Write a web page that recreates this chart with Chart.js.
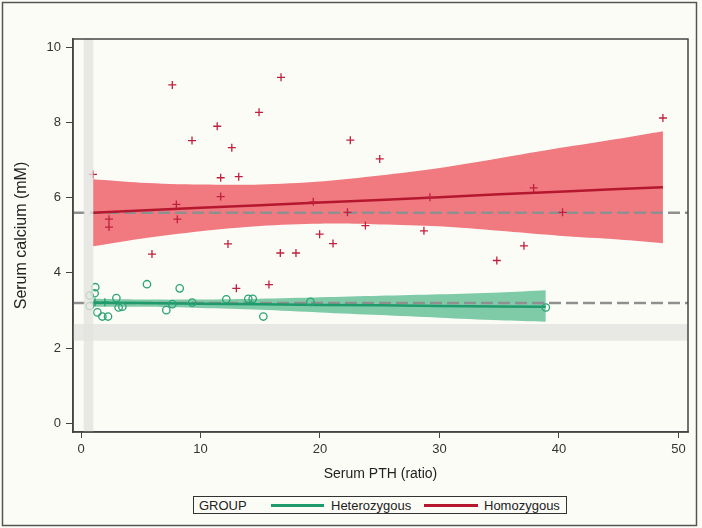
<!DOCTYPE html>
<html>
<head>
<meta charset="utf-8">
<script src="https://cdn.jsdelivr.net/npm/chart.js@4/dist/chart.umd.min.js"></script>
<style>
  html, body { margin:0; padding:0; background:#fcfcf7; }
  #wrap { position:relative; width:702px; height:528px; }
  #c { position:absolute; left:0; top:0; }
  #legend { position:absolute; left:193px; top:496px; width:374px; height:18px; border:1px solid #333;
    font-family:"Liberation Sans", Arial, sans-serif; font-size:13px; color:#222; box-sizing:border-box; background:#fcfcf7; }
  #legend span { position:absolute; top:0px; line-height:17px; white-space:nowrap; }
  #legend i { position:absolute; top:7px; height:2.5px; display:block; }
</style>
</head>
<body>
<div id="wrap">
<canvas id="c" width="702" height="528"></canvas>
<div id="legend">
  <span style="left:5px">GROUP</span>
  <i style="left:77px;width:53px;background:#1f9a6c"></i>
  <span style="left:137px">Heterozygous</span>
  <i style="left:230px;width:54px;background:#b5172f"></i>
  <span style="left:290px">Homozygous</span>
</div>
</div>
<script>
// ---- data ----
const xTickValues = [0, 10, 20, 30, 40, 50];
const yTickValues = [0, 2, 4, 6, 8, 10];

// Homozygous (red plus markers)
const homX = [1.0, 2.34, 2.34, 5.94, 7.64, 7.98, 8.06, 9.29, 11.4, 11.69, 11.69, 12.3, 12.62, 13.2, 13.0, 14.9, 15.73, 16.74, 16.68, 17.99, 19.44, 19.97, 21.09, 22.54, 22.3, 23.8, 25.0, 28.7, 29.2, 34.8, 37.07, 37.88, 40.3, 48.7];
const homY = [6.62, 5.43, 5.22, 4.50, 9.00, 5.82, 5.43, 7.52, 7.90, 6.53, 6.03, 4.77, 7.33, 6.56, 3.59, 8.27, 3.69, 9.20, 4.53, 4.53, 5.89, 5.03, 4.78, 7.53, 5.61, 5.26, 7.03, 5.12, 6.01, 4.33, 4.72, 6.26, 5.61, 8.12];

// Heterozygous (green circles)
const hetX = [0.73, 0.73, 1.2, 1.14, 1.37, 1.79, 2.26, 2.96, 3.15, 3.46, 5.52, 7.14, 7.64, 8.26, 9.3, 12.16, 14.0, 14.37, 15.26, 19.2, 38.9];
const hetY = [3.40, 3.12, 3.62, 3.46, 2.95, 2.84, 2.84, 3.33, 3.08, 3.10, 3.70, 3.01, 3.17, 3.59, 3.21, 3.30, 3.31, 3.31, 2.84, 3.23, 3.08];

// plus marks seen inside the green band
const crossX = [1.17, 2.0];
const crossY = [3.22, 3.22];

// Homozygous fit and confidence band
const redBandX = [1, 5, 10, 15, 20, 25, 30, 35, 40, 45, 48.7];
const redFit   = [5.60, 5.66, 5.73, 5.80, 5.87, 5.94, 6.01, 6.09, 6.16, 6.23, 6.28];
const redUpper = [6.49, 6.40, 6.35, 6.35, 6.43, 6.59, 6.79, 7.05, 7.32, 7.57, 7.77];
const redLower = [4.71, 4.91, 5.11, 5.25, 5.31, 5.29, 5.24, 5.12, 4.99, 4.89, 4.79];

// Heterozygous fit and confidence band
const greenBandX = [1, 5, 10, 15, 20, 25, 30, 35, 38.9];
const greenFit   = [3.21, 3.20, 3.18, 3.17, 3.15, 3.14, 3.12, 3.11, 3.10];
const greenUpper = [3.31, 3.29, 3.29, 3.31, 3.35, 3.39, 3.43, 3.48, 3.54];
const greenLower = [3.10, 3.10, 3.07, 3.02, 2.95, 2.88, 2.81, 2.74, 2.70];

// reference lines and normal-range bands
const refLinesY = [5.6, 3.2];
const vBand = [0.23, 1.03];
const hBand = [2.2, 2.64];

const pts = (xs, ys) => xs.map((x, i) => ({x: x, y: ys[i]}));

const RED = '#b5172f', RED_BAND = '#f07a80', RED_PT = '#c0203f';
const GREEN = '#1f9a6c', GREEN_BAND = '#7fcba8', GREEN_PT = '#2aa374';
const FONT = '"Liberation Sans", Arial, sans-serif';

const framePlugin = {
  id: 'frame',
  beforeDraw(chart) {
    const ctx = chart.ctx;
    ctx.save();
    ctx.fillStyle = '#fcfcf7';
    ctx.fillRect(0, 0, chart.width, chart.height);
    ctx.strokeStyle = '#555';
    ctx.lineWidth = 1.5;
    ctx.strokeRect(2.5, 2.5, 694, 523);
    ctx.restore();
  },
  afterDatasetDraw(chart, args) {
    if (args.index !== 4) return;
    const {ctx, chartArea: a, scales: {y}} = chart;
    ctx.save();
    ctx.strokeStyle = '#8f8f8f';
    ctx.lineWidth = 2.5;
    ctx.setLineDash([12, 5]);
    refLinesY.forEach(v => {
      const py = y.getPixelForValue(v);
      ctx.beginPath();
      ctx.moveTo(a.left, py);
      ctx.lineTo(a.right, py);
      ctx.stroke();
    });
    ctx.restore();
  },
  afterDatasetsDraw(chart) {
    const {ctx, chartArea: a, scales: {x, y}} = chart;
    ctx.save();
    ctx.beginPath();
    ctx.rect(a.left, a.top, a.right - a.left, a.bottom - a.top);
    ctx.clip();
    ctx.fillStyle = 'rgba(226,226,223,0.8)';
    const x0 = x.getPixelForValue(vBand[0]), x1 = x.getPixelForValue(vBand[1]);
    ctx.fillRect(x0, a.top, x1 - x0, a.bottom - a.top);
    const y0 = y.getPixelForValue(hBand[1]), y1 = y.getPixelForValue(hBand[0]);
    ctx.fillRect(a.left, y0, a.right - a.left, y1 - y0);
    ctx.restore();
  },
  afterDraw(chart) {
    const {ctx, chartArea: a} = chart;
    ctx.save();
    ctx.strokeStyle = '#444';
    ctx.lineWidth = 1.5;
    ctx.strokeRect(a.left, a.top, a.right - a.left, a.bottom - a.top);
    ctx.restore();
  }
};

new Chart(document.getElementById('c'), {
  type: 'scatter',
  data: {
    datasets: [
      { label: 'cross', data: pts(crossX, crossY), order: 0, pointStyle: 'cross', pointRadius: 4,
        borderColor: GREEN, borderWidth: 1.3, showLine: false },
      { label: 'redUpper', data: pts(redBandX, redUpper), order: 12, showLine: true, fill: '+1',
        backgroundColor: RED_BAND, borderWidth: 0, pointRadius: 0, tension: 0.3 },
      { label: 'redLower', data: pts(redBandX, redLower), order: 11, showLine: true, fill: false,
        borderWidth: 0, pointRadius: 0, tension: 0.3 },
      { label: 'greenUpper', data: pts(greenBandX, greenUpper), order: 10, showLine: true, fill: '+1',
        backgroundColor: GREEN_BAND, borderWidth: 0, pointRadius: 0, tension: 0.3 },
      { label: 'greenLower', data: pts(greenBandX, greenLower), order: 9, showLine: true, fill: false,
        borderWidth: 0, pointRadius: 0, tension: 0.3 },
      { label: 'redFit', data: pts(redBandX, redFit), order: 5, showLine: true, fill: false,
        borderColor: RED, borderWidth: 2.5, pointRadius: 0 },
      { label: 'greenFit', data: pts(greenBandX, greenFit), order: 4, showLine: true, fill: false,
        borderColor: GREEN, borderWidth: 2.5, pointRadius: 0 },
      { label: 'Homozygous', data: pts(homX, homY), order: 2, pointStyle: 'cross', pointRadius: 4,
        borderColor: RED_PT, borderWidth: 1.3, showLine: false },
      { label: 'Heterozygous', data: pts(hetX, hetY), order: 1, pointStyle: 'circle', pointRadius: 3.7,
        borderColor: GREEN_PT, backgroundColor: 'rgba(0,0,0,0)', borderWidth: 1.3, showLine: false }
    ]
  },
  options: {
    responsive: false,
    animation: false,
    devicePixelRatio: 1,
    layout: { padding: { left: 0, top: 39, right: 14, bottom: 0 } },
    plugins: { legend: { display: false }, tooltip: { enabled: false } },
    elements: { line: { borderJoinStyle: 'round' } },
    scales: {
      x: {
        type: 'linear', min: -0.67, max: 50.8,
        afterBuildTicks: s => { s.ticks = xTickValues.map(v => ({value: v})); },
        afterFit: s => { s.height = 96; },
        grid: { drawOnChartArea: false, drawTicks: true, tickLength: 6, color: '#444', lineWidth: 1 },
        border: { display: true, color: '#444', width: 1.5 },
        ticks: { color: '#333', font: { family: FONT, size: 13 }, padding: 4, maxRotation: 0 },
        title: { display: true, text: 'Serum PTH (ratio)', color: '#222',
                 font: { family: FONT, size: 14 }, padding: { top: 0, bottom: 45 } }
      },
      y: {
        type: 'linear', min: -0.23, max: 10.22,
        afterBuildTicks: s => { s.ticks = yTickValues.map(v => ({value: v})); },
        afterFit: s => { s.width = 73; },
        grid: { drawOnChartArea: false, drawTicks: true, tickLength: 7, color: '#444', lineWidth: 1 },
        border: { display: true, color: '#444', width: 1.5 },
        ticks: { color: '#333', font: { family: FONT, size: 13 }, padding: 5 },
        title: { display: true, text: 'Serum calcium (mM)', color: '#222',
                 font: { family: FONT, size: 16 }, padding: { top: 12, bottom: 0 } }
      }
    }
  },
  plugins: [framePlugin]
});
</script>
</body>
</html>
